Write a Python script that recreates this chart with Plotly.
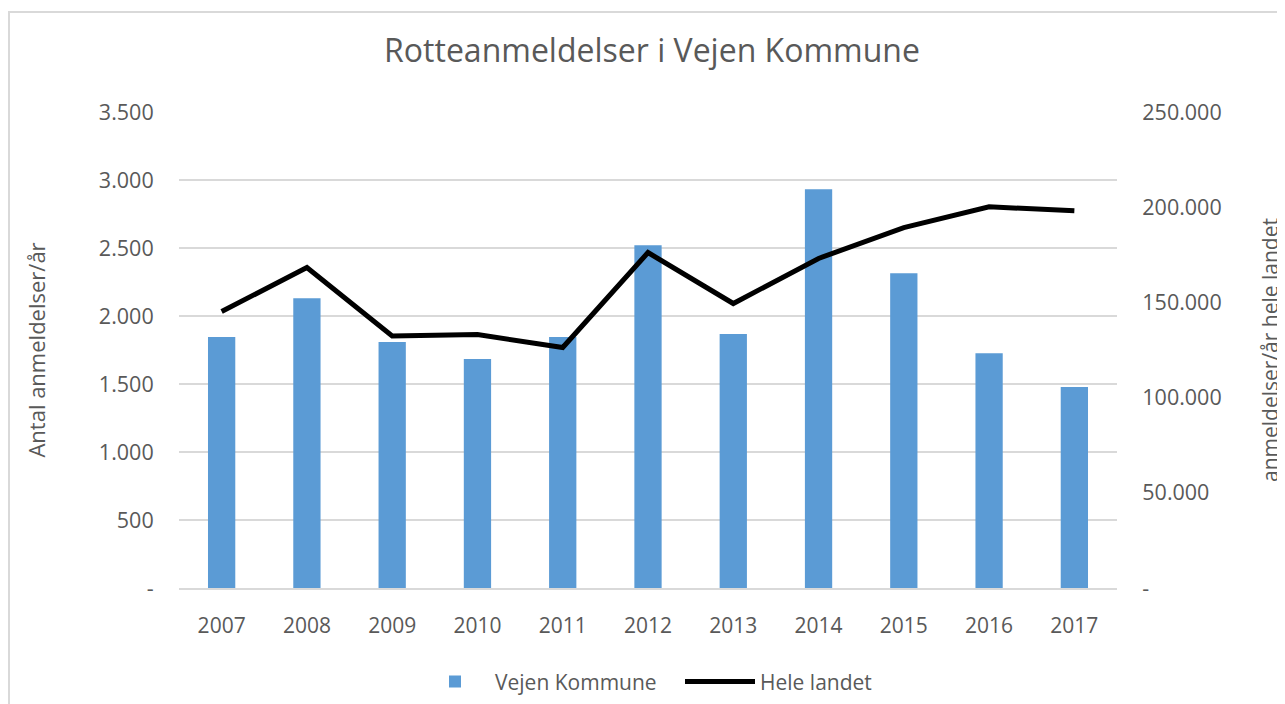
import plotly.graph_objects as go

years = ["2007", "2008", "2009", "2010", "2011", "2012", "2013", "2014", "2015", "2016", "2017"]
vejen = [1846, 2132, 1809, 1684, 1846, 2522, 1868, 2934, 2316, 1728, 1478]
hele_landet = [145300, 168400, 132400, 133200, 126400, 176300, 149500, 173200, 189400, 200300, 198200]

left_tickvals = [0, 500, 1000, 1500, 2000, 2500, 3000, 3500]
left_ticktext = ["-", "500", "1.000", "1.500", "2.000", "2.500", "3.000", "3.500"]
right_tickvals = [0, 50000, 100000, 150000, 200000, 250000]
right_ticktext = ["-", "50.000", "100.000", "150.000", "200.000", "250.000"]

FONT = "Open Sans"
GREY = "#595959"

# page body has an 8px margin, so figure-relative offsets are shifted by 8
L, T, PW, PH = 171, 104, 938, 476

fig = go.Figure()
fig.add_trace(go.Bar(
    x=years, y=vejen, name="Vejen Kommune",
    marker=dict(color="#5B9BD5", line=dict(width=0)),
    width=0.32, yaxis="y",
))
fig.add_trace(go.Scatter(
    x=years, y=hele_landet, name="Hele landet", mode="lines",
    line=dict(color="#000000", width=5), yaxis="y2",
))

fig.update_layout(
    width=1285, height=704,
    margin=dict(l=L, r=1285 - L - PW, t=T, b=704 - T - PH, autoexpand=False),
    paper_bgcolor="white", plot_bgcolor="white",
    font=dict(family=FONT, size=20, color=GREY),
    title=dict(text="Rotteanmeldelser i Vejen Kommune", x=(652 - 8) / 1285, xanchor="center",
               y=1 - 43 / 704, yref="container", yanchor="middle",
               font=dict(family=FONT, size=32, color=GREY)),
    xaxis=dict(showgrid=False, showline=True, linecolor="#d9d9d9", linewidth=1.5,
               ticks="outside", ticklen=18, tickcolor="rgba(0,0,0,0)",
               tickfont=dict(size=21, color=GREY), automargin=False),
    yaxis=dict(range=[0, 3502], tickvals=left_tickvals, ticktext=left_ticktext,
               showgrid=True, gridcolor="#d9d9d9", gridwidth=1.5, zeroline=False,
               ticks="outside", ticklen=20, tickcolor="rgba(0,0,0,0)",
               tickfont=dict(size=21.5, color=GREY), automargin=False,
               title=dict(text="Antal anmeldelser/år", standoff=47,
                          font=dict(size=22, color=GREY))),
    yaxis2=dict(range=[0, 250000 * 3502 / 3500], tickvals=right_tickvals, ticktext=right_ticktext,
                overlaying="y", side="right", showgrid=False, zeroline=False,
                ticks="outside", ticklen=20, tickcolor="rgba(0,0,0,0)",
                tickfont=dict(size=21.5, color=GREY), automargin=False,
                title=dict(text="anmeldelser/år hele landet", standoff=42,
                           font=dict(size=21, color=GREY))),
    legend=dict(orientation="h", x=(680 - 179) / PW, xanchor="center", y=-0.197, yanchor="middle",
                font=dict(size=21, color=GREY), bgcolor="rgba(0,0,0,0)",
                itemwidth=70, entrywidth=180, entrywidthmode="pixels"),
    bargap=0.68,
    showlegend=True,
)

fig.add_shape(type="rect", xref="paper", yref="paper",
              x0=(9 - 179) / PW, x1=(1300 - 179) / PW,
              y0=(588 - 720) / PH, y1=(588 - 12) / PH,
              line=dict(color="#d9d9d9", width=2), fillcolor="rgba(0,0,0,0)", layer="below")

fig.write_html("out.html")
